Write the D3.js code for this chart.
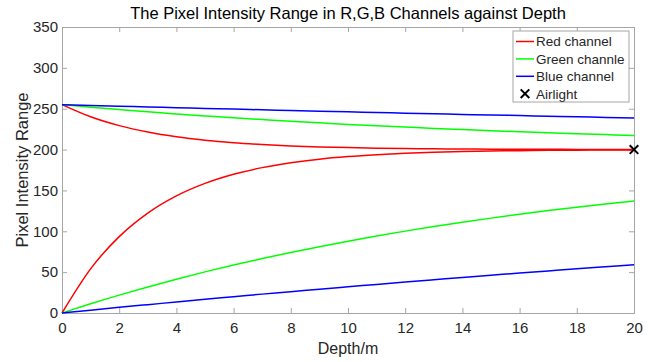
<!DOCTYPE html>
<html>
<head>
<meta charset="utf-8">
<script src="https://cdn.jsdelivr.net/npm/d3@7"></script>
<style>
  body { margin: 0; background: #fff; }
  svg { display: block; font-family: 'Liberation Sans', Arial, sans-serif; }
</style>
</head>
<body>
<div id="chart"></div>
<script>
// depth in metres
const depth = [0, 1, 2, 3, 4, 5, 6, 7, 8, 9, 10, 11, 12, 13, 14, 15, 16, 17, 18, 19, 20]

// upper = bright pixel (255) fading to airlight, lower = dark pixel (0) rising to airlight
const redUpper = [255, 240.1, 229.3, 221.4, 215.6, 211.4, 208.3, 206.1, 204.4, 203.2, 202.4, 201.7, 201.3, 200.9, 200.7, 200.5, 200.4, 200.3, 200.2, 200.1, 200.1]
const redLower = [0, 54.0, 93.5, 122.3, 143.3, 158.6, 169.8, 177.9, 183.9, 188.3, 191.4, 193.7, 195.4, 196.7, 197.6, 198.2, 198.7, 199.1, 199.3, 199.5, 199.6]
const greenUpper = [255, 251.9, 249.0, 246.2, 243.6, 241.2, 238.9, 236.7, 234.6, 232.7, 230.8, 229.1, 227.5, 225.9, 224.5, 223.1, 221.8, 220.6, 219.4, 218.3, 217.3]
const greenLower = [0, 11.3, 21.9, 31.9, 41.3, 50.3, 58.7, 66.6, 74.1, 81.2, 87.9, 94.2, 100.2, 105.8, 111.1, 116.1, 120.8, 125.3, 129.5, 133.4, 137.2]
const blueUpper = [255, 254.0, 253.1, 252.2, 251.3, 250.4, 249.5, 248.7, 247.8, 247.0, 246.2, 245.4, 244.6, 243.8, 243.0, 242.3, 241.6, 240.8, 240.1, 239.4, 238.7]
const blueLower = [0, 3.5, 6.9, 10.2, 13.5, 16.8, 19.9, 23.1, 26.1, 29.2, 32.1, 35.0, 37.9, 40.7, 43.5, 46.2, 48.9, 51.5, 54.1, 56.6, 59.1]

const airlight = [{ d: 20, v: 200 }]

const xTicks = [0, 2, 4, 6, 8, 10, 12, 14, 16, 18, 20]
const yTicks = [0, 50, 100, 150, 200, 250, 300, 350]

const legendItems = ['Red channel', 'Green channle', 'Blue channel', 'Airlight']

const width = 658
const height = 362
const margin = { top: 27, right: 24, bottom: 49, left: 62 }
const axisColor = '#a6a6a6'
const textColor = '#262626'

const series = [
  { values: redUpper, color: '#ff0000' },
  { values: redLower, color: '#ff0000' },
  { values: greenUpper, color: '#00ff00' },
  { values: greenLower, color: '#00ff00' },
  { values: blueUpper, color: '#0000ff' },
  { values: blueLower, color: '#0000ff' }
]

const svg = d3.select('#chart')
  .append('svg')
  .attr('width', width)
  .attr('height', height)

const x = d3.scaleLinear()
  .domain([0, 20])
  .range([margin.left, width - margin.right])

const y = d3.scaleLinear()
  .domain([0, 350])
  .range([height - margin.bottom, margin.top])

// axes, ticks pointing inward like matlab
const xAxis = (g) => {
  g.attr('transform', `translate(0,${height - margin.bottom})`)
    .call(d3.axisBottom(x).tickValues(xTicks).tickSize(-5).tickPadding(9))
}
const xAxisTop = (g) => {
  g.attr('transform', `translate(0,${margin.top})`)
    .call(d3.axisTop(x).tickValues(xTicks).tickSize(-5).tickFormat(''))
}
const yAxis = (g) => {
  g.attr('transform', `translate(${margin.left},0)`)
    .call(d3.axisLeft(y).tickValues(yTicks).tickSize(-5).tickPadding(4))
}
const yAxisRight = (g) => {
  g.attr('transform', `translate(${width - margin.right},0)`)
    .call(d3.axisRight(y).tickValues(yTicks).tickSize(-5).tickFormat(''))
}

for (const ax of [xAxis, xAxisTop, yAxis, yAxisRight]) {
  const g = svg.append('g').call(ax)
  g.select('.domain').attr('stroke', axisColor)
  g.selectAll('.tick line').attr('stroke', axisColor)
  g.selectAll('.tick text')
    .attr('fill', textColor)
    .style('font-size', '15px')
}

// curves
const line = d3.line()
  .x((v, i) => x(depth[i]))
  .y(v => y(v))
  .curve(d3.curveMonotoneX)

svg.append('g')
  .selectAll('path')
  .data(series)
  .join('path')
  .attr('d', s => line(s.values))
  .attr('fill', 'none')
  .attr('stroke', s => s.color)
  .attr('stroke-width', 1.5)

// airlight marker
const cross = d3.symbol().type(d3.symbolX).size(50)
svg.append('g')
  .selectAll('path')
  .data(airlight)
  .join('path')
  .attr('transform', d => `translate(${x(d.d)},${y(d.v)})`)
  .attr('d', cross)
  .attr('fill', 'none')
  .attr('stroke', '#000')
  .attr('stroke-width', 2)

// title and axis labels
svg.append('text')
  .attr('x', (margin.left + width - margin.right) / 2)
  .attr('y', 19)
  .attr('text-anchor', 'middle')
  .attr('fill', '#000')
  .style('font-size', '16.5px')
  .text('The Pixel Intensity Range in R,G,B Channels against Depth')

svg.append('text')
  .attr('x', (margin.left + width - margin.right) / 2)
  .attr('y', 354)
  .attr('text-anchor', 'middle')
  .attr('fill', textColor)
  .style('font-size', '16px')
  .text('Depth/m')

svg.append('text')
  .attr('transform', `translate(28,${(margin.top + height - margin.bottom) / 2}) rotate(-90)`)
  .attr('text-anchor', 'middle')
  .attr('fill', textColor)
  .style('font-size', '16.5px')
  .text('Pixel Intensity Range')

// legend
const legend = svg.append('g').attr('transform', 'translate(513,31)')
legend.append('rect')
  .attr('width', 116)
  .attr('height', 71)
  .attr('fill', '#fff')
  .attr('stroke', axisColor)

const legendColors = ['#ff0000', '#00ff00', '#0000ff', null]
legendItems.forEach((name, i) => {
  const ly = 10.5 + i * 17.4
  if (legendColors[i]) {
    legend.append('line')
      .attr('x1', 3).attr('x2', 21)
      .attr('y1', ly).attr('y2', ly)
      .attr('stroke', legendColors[i])
      .attr('stroke-width', 1.5)
  } else {
    legend.append('path')
      .attr('transform', `translate(12,${ly})`)
      .attr('d', cross)
      .attr('fill', 'none')
      .attr('stroke', '#000')
      .attr('stroke-width', 2)
  }
  legend.append('text')
    .attr('x', 23)
    .attr('y', ly + 4.8)
    .attr('fill', textColor)
    .style('font-size', '13.5px')
    .text(name)
})
</script>
</body>
</html>
